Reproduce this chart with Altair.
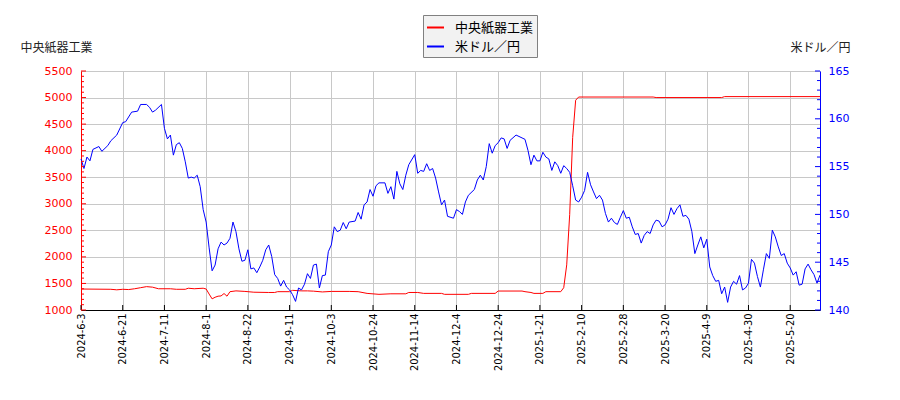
import altair as alt
import pandas as pd

# x tick labels (every 14 trading days)
tick_labels = ["2024-6-3", "2024-6-21", "2024-7-11", "2024-8-1", "2024-8-22", "2024-9-11",
               "2024-10-3", "2024-10-24", "2024-11-14", "2024-12-4", "2024-12-24", "2025-1-21",
               "2025-2-10", "2025-2-28", "2025-3-20", "2025-4-9", "2025-4-30", "2025-5-20"]
tick_idx = [i * 14 for i in range(len(tick_labels))]

series_names = ["中央紙器工業", "米ドル／円"]

# 中央紙器工業 (trading-day index, price)
red_idx = [0, 10, 12, 14, 16, 18, 20, 22, 24, 26, 30, 32, 35, 36, 38, 41, 42, 43, 44, 45, 46, 47, 48,
           49, 50, 52, 55, 58, 63, 65, 66, 70, 71, 74, 76, 78, 81, 84, 90, 93, 96, 100, 104, 109, 110,
           113, 115, 121, 122, 130, 131, 139, 140, 148, 149, 151, 152, 155, 156, 161, 162, 163, 164,
           165, 166, 167, 192, 193, 215, 216, 248]
red_val = [1395, 1390, 1380, 1390, 1385, 1400, 1420, 1440, 1430, 1400, 1400, 1390, 1390, 1410, 1400,
           1410, 1395, 1300, 1210, 1240, 1260, 1265, 1310, 1260, 1345, 1360, 1350, 1335, 1330, 1330,
           1345, 1345, 1370, 1360, 1360, 1355, 1340, 1350, 1350, 1345, 1313, 1295, 1305, 1305, 1330,
           1330, 1313, 1313, 1295, 1295, 1313, 1313, 1357, 1357, 1345, 1330, 1313, 1313, 1345, 1345,
           1420, 1850, 2800, 4250, 4950, 5010, 5010, 5000, 5000, 5018, 5018]

# 米ドル／円 (trading-day index, rate)
blue_idx = [0, 1, 2, 3, 4, 6, 7, 9, 10, 12, 14, 15, 17, 19, 20, 22, 23, 24, 25, 27, 28, 29, 30, 31,
            32, 33, 34, 35, 36, 37, 38, 39, 40, 41, 42, 43, 44, 45, 46, 47, 48, 49, 50, 51, 52, 53,
            54, 55, 56, 57, 58, 59, 60, 61, 62, 63, 64, 65, 66, 67, 68, 69, 70, 71, 72, 73, 74, 75,
            76, 77, 78, 79, 80, 81, 82, 83, 84, 85, 86, 87, 88, 89, 90, 92, 93, 94, 95, 96, 97, 98,
            99, 100, 102, 103, 104, 105, 106, 107, 108, 109, 110, 112, 113, 114, 115, 116, 117, 118,
            119, 120, 121, 122, 123, 125, 126, 127, 128, 129, 130, 132, 133, 134, 135, 136, 137, 138,
            139, 140, 141, 142, 143, 144, 146, 148, 149, 150, 151, 152, 153, 154, 155, 156, 157, 158,
            159, 160, 161, 162, 163, 164, 165, 166, 167, 168, 169, 170, 171, 172, 173, 174, 175, 176,
            177, 178, 179, 180, 181, 182, 183, 184, 185, 186, 187, 188, 189, 190, 191, 192, 193, 194,
            195, 196, 197, 198, 199, 200, 201, 202, 203, 204, 205, 206, 207, 208, 209, 210, 211, 212,
            213, 214, 215, 216, 217, 218, 219, 220, 221, 222, 223, 224, 225, 226, 227, 228, 229, 230,
            231, 232, 233, 234, 235, 236, 237, 238, 239, 240, 241, 242, 243, 244, 245, 246, 247, 248]
blue_val = [155.8, 154.8, 156.0, 155.6, 156.8, 157.1, 156.6, 157.2, 157.7, 158.3, 159.6, 159.7, 160.7,
            160.8, 161.5, 161.5, 161.2, 160.7, 160.9, 161.5, 159.0, 157.9, 158.3, 156.2, 157.3, 157.5,
            156.9, 155.5, 153.8, 153.9, 153.8, 154.1, 152.9, 150.5, 149.2, 146.5, 144.1, 144.7, 146.4,
            147.1, 146.8, 147.0, 147.5, 149.2, 148.2, 146.4, 145.1, 145.2, 146.3, 144.3, 144.4, 143.9,
            144.5, 145.2, 146.3, 146.8, 145.6, 143.7, 143.3, 142.5, 143.1, 142.4, 142.1, 141.6, 140.9,
            142.3, 142.1, 142.7, 143.8, 143.3, 144.7, 144.8, 142.3, 143.6, 143.65, 146.1, 146.8, 148.7,
            148.2, 148.35, 149.15, 148.5, 149.2, 149.3, 150.2, 149.5, 151.0, 151.3, 152.6, 151.9, 153.0,
            153.3, 153.3, 152.2, 152.9, 151.6, 154.5, 153.2, 152.6, 154.1, 155.2, 156.25, 154.3, 154.6,
            154.5, 155.3, 154.6, 154.8, 153.8, 152.35, 151.0, 151.5, 149.8, 149.6, 150.5, 150.3, 150.0,
            151.3, 152.0, 152.6, 153.6, 154.1, 153.6, 155.0, 157.4, 156.4, 157.2, 157.5, 158.0, 157.9,
            156.9, 157.75, 158.3, 158.0, 157.85, 156.7, 155.2, 156.2, 155.6, 155.6, 156.5, 156.0, 155.8,
            154.6, 155.5, 155.1, 154.3, 155.1, 154.8, 154.4, 153.0, 151.5, 151.3, 151.8, 152.5, 154.4,
            153.1, 152.35, 151.65, 152.0, 151.5, 150.1, 149.2, 149.6, 149.15, 148.95, 149.7, 150.4,
            149.6, 149.7, 148.7, 147.9, 148.0, 147.0, 147.8, 148.2, 148.0, 148.9, 149.4, 149.3, 148.7,
            148.9, 149.5, 150.7, 150.0, 150.6, 151.0, 149.8, 149.9, 149.5, 148.2, 145.9, 146.8, 147.65,
            146.5, 147.4, 144.5, 143.6, 143.0, 143.1, 141.7, 142.4, 140.8, 142.4, 143.0, 142.7, 143.6,
            142.1, 142.3, 142.8, 145.3, 144.9, 143.5, 142.4, 144.2, 145.9, 145.4, 148.35, 147.65, 146.6,
            145.7, 145.9, 144.9, 144.4, 143.65, 144.0, 142.6, 142.7, 144.3, 144.8, 144.2, 143.7, 142.8,
            143.65]

# axis tick values
left_major = list(range(1000, 5501, 500))
left_minor = [v for v in range(1000, 5501, 100) if v % 500]
right_major = list(range(140, 166, 5))
right_minor = [v for v in range(140, 166) if v % 5]

FONT = "DejaVu Sans, Noto Sans CJK JP"
XMAX = 248
W, H = 739, 239

red_df = pd.DataFrame({"i": red_idx, "v": red_val, "s": series_names[0]})
blue_df = pd.DataFrame({"i": blue_idx, "v": blue_val, "s": series_names[1]})

xscale = alt.Scale(domain=[0, XMAX], nice=False, zero=False)
lscale = alt.Scale(domain=[1000, 5500], nice=False, zero=False)
rscale = alt.Scale(domain=[140, 165], nice=False, zero=False)
cscale = alt.Scale(domain=series_names, range=["red", "blue"])

label_arr = "[" + ",".join("'%s'" % t for t in tick_labels) + "]"
xaxis = alt.Axis(values=tick_idx, labelExpr=label_arr + "[round(datum.value/14)]",
                 labelAngle=270, labelAlign="right", labelBaseline="middle",
                 grid=True, gridColor="#c8c8c8", ticks=False, domainColor="black",
                 labelFont="DejaVu Sans Condensed, DejaVu Sans", labelFontSize=11,
                 labelColor="black", labelPadding=3, title=None, labelOverlap=False)

legend = alt.Legend(title=None, orient="none", legendX=342, legendY=-56,
                    fillColor="#f2f2f2", strokeColor="#808080", padding=3,
                    symbolType="stroke", symbolStrokeWidth=2, symbolSize=289,
                    labelFont=FONT, labelFontSize=13, labelColor="black",
                    rowPadding=2, labelOffset=10)

red_line = alt.Chart(red_df).mark_line(strokeWidth=1).encode(
    x=alt.X("i:Q", scale=xscale, axis=xaxis),
    y=alt.Y("v:Q", scale=lscale, axis=alt.Axis(
        orient="left", values=left_major, format="d", grid=True, gridColor="#c8c8c8", ticks=False,
        domainColor="red", labelColor="red", labelFont=FONT, labelFontSize=11, labelPadding=9,
        title="中央紙器工業", titleAngle=0, titleX=-61, titleY=-24, titleAlign="left",
        titleBaseline="middle", titleFont=FONT, titleFontSize=12, titleFontWeight="normal",
        titleColor="#222222")),
    color=alt.Color("s:N", scale=cscale, legend=legend),
)

blue_line = alt.Chart(blue_df).mark_line(strokeWidth=1).encode(
    x=alt.X("i:Q", scale=xscale, axis=xaxis),
    y=alt.Y("v:Q", scale=rscale, axis=alt.Axis(
        orient="right", values=right_major, format="d", grid=False, ticks=False,
        domainColor="blue", labelColor="blue", labelFont=FONT, labelFontSize=11, labelPadding=8,
        title="米ドル／円", titleAngle=0, titleX=-30, titleY=-24, titleAlign="left",
        titleBaseline="middle", titleFont=FONT, titleFontSize=12, titleFontWeight="normal",
        titleColor="#222222")),
    color=alt.Color("s:N", scale=cscale, legend=legend),
)

xticks = alt.Chart(pd.DataFrame({"t": tick_idx})).mark_rule(color="black").encode(
    x=alt.X("t:Q", scale=xscale, axis=xaxis), y=alt.value(H), y2=alt.value(H - 5))

def yticks(vals, scale, x0, x1, color):
    return alt.Chart(pd.DataFrame({"v": vals})).mark_rule(color=color).encode(
        y=alt.Y("v:Q", scale=scale, axis=None), x=alt.value(x0), x2=alt.value(x1))

lmaj = yticks(left_major, lscale, 0, 5, "red")
lmin = yticks(left_minor, lscale, 0, 3, "red")
rmaj = yticks(right_major, rscale, W, W - 5, "blue")
rmin = yticks(right_minor, rscale, W, W - 3, "blue")

chart = alt.layer(red_line, blue_line, xticks, lmaj, lmin, rmaj, rmin).resolve_scale(
    y="independent"
).properties(
    width=W, height=H,
    autosize=alt.AutoSizeParams(type="none"),
    padding={"left": 73, "top": 63, "right": 70, "bottom": 80},
).configure_view(stroke=None).configure(background="white")

chart.save("out.html", embed_options={"renderer": "svg", "actions": False})
